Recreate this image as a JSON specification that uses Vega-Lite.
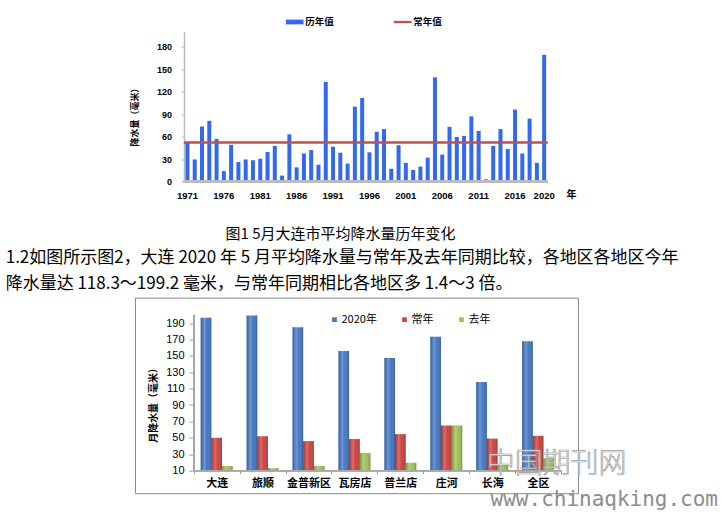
{
  "$schema": "https://vega.github.io/schema/vega-lite/v6.json",
  "background": "white",
  "padding": {"left": 5, "top": 12.6, "right": 0, "bottom": 0},
  "spacing": 6,
  "datasets": {
    "annual": [
      {"year": 1971, "value": 52}, {"year": 1972, "value": 29.5}, {"year": 1973, "value": 73.5}, {"year": 1974, "value": 81},
      {"year": 1975, "value": 57}, {"year": 1976, "value": 14}, {"year": 1977, "value": 49}, {"year": 1978, "value": 26},
      {"year": 1979, "value": 29.5}, {"year": 1980, "value": 28.5}, {"year": 1981, "value": 30.5}, {"year": 1982, "value": 39.5},
      {"year": 1983, "value": 47.5}, {"year": 1984, "value": 8}, {"year": 1985, "value": 63}, {"year": 1986, "value": 19},
      {"year": 1987, "value": 37.5}, {"year": 1988, "value": 42}, {"year": 1989, "value": 22.5}, {"year": 1990, "value": 133},
      {"year": 1991, "value": 46.5}, {"year": 1992, "value": 38.5}, {"year": 1993, "value": 24}, {"year": 1994, "value": 100},
      {"year": 1995, "value": 111.5}, {"year": 1996, "value": 39}, {"year": 1997, "value": 66.5}, {"year": 1998, "value": 70},
      {"year": 1999, "value": 17}, {"year": 2000, "value": 48.5}, {"year": 2001, "value": 25}, {"year": 2002, "value": 15.5},
      {"year": 2003, "value": 20}, {"year": 2004, "value": 32}, {"year": 2005, "value": 139}, {"year": 2006, "value": 36},
      {"year": 2007, "value": 73}, {"year": 2008, "value": 59.5}, {"year": 2009, "value": 61}, {"year": 2010, "value": 87},
      {"year": 2011, "value": 67.5}, {"year": 2012, "value": 3}, {"year": 2013, "value": 47.5}, {"year": 2014, "value": 70},
      {"year": 2015, "value": 43.5}, {"year": 2016, "value": 96}, {"year": 2017, "value": 37.5}, {"year": 2018, "value": 84},
      {"year": 2019, "value": 25}, {"year": 2020, "value": 169}
    ],
    "normal": [{"series": "常年值", "value": 52}],
    "regions": [
      {"region": "大连", "series": "2020年", "value": 196.5}, {"region": "大连", "series": "常年", "value": 50}, {"region": "大连", "series": "去年", "value": 15.5},
      {"region": "旅顺", "series": "2020年", "value": 199.2}, {"region": "旅顺", "series": "常年", "value": 52}, {"region": "旅顺", "series": "去年", "value": 13},
      {"region": "金普新区", "series": "2020年", "value": 185}, {"region": "金普新区", "series": "常年", "value": 46}, {"region": "金普新区", "series": "去年", "value": 15.5},
      {"region": "瓦房店", "series": "2020年", "value": 156}, {"region": "瓦房店", "series": "常年", "value": 48.5}, {"region": "瓦房店", "series": "去年", "value": 31.5},
      {"region": "普兰店", "series": "2020年", "value": 147.5}, {"region": "普兰店", "series": "常年", "value": 54.5}, {"region": "普兰店", "series": "去年", "value": 19.5},
      {"region": "庄河", "series": "2020年", "value": 173.5}, {"region": "庄河", "series": "常年", "value": 65}, {"region": "庄河", "series": "去年", "value": 65},
      {"region": "长海", "series": "2020年", "value": 118.3}, {"region": "长海", "series": "常年", "value": 49}, {"region": "长海", "series": "去年", "value": 18},
      {"region": "全区", "series": "2020年", "value": 168}, {"region": "全区", "series": "常年", "value": 52.5}, {"region": "全区", "series": "去年", "value": 25}
    ]
  },
  "config": {
    "view": {"stroke": null},
    "axis": {"grid": false, "labelColor": "#000", "titleColor": "#000", "labelOverlap": false},
    "legend": {"padding": 0, "titlePadding": 0}
  },
  "resolve": {
    "scale": {"x": "independent", "y": "independent", "color": "independent", "xOffset": "independent"},
    "legend": {"color": "independent"},
    "axis": {"x": "independent", "y": "independent"}
  },
  "vconcat": [
    {
      "width": 443,
      "height": 150,
      "title": {
        "text": "图1  5月大连市平均降水量历年变化",
        "orient": "bottom", "anchor": "middle", "frame": "group", "dx": -16, "offset": 27,
        "font": "Noto Sans CJK SC", "fontSize": 15, "fontWeight": "normal", "color": "#000"
      },
      "layer": [
        {
          "data": {"name": "annual"},
          "mark": {"type": "bar", "width": {"band": 0.55}},
          "encoding": {
            "x": {
              "field": "year", "type": "ordinal",
              "scale": {"type": "band", "paddingInner": 0, "paddingOuter": 0, "range": [48.8, 412.8]},
              "axis": {
                "values": [1971, 1976, 1981, 1986, 1991, 1996, 2001, 2006, 2011, 2016, 2020],
                "labelAngle": 0, "domain": false, "ticks": false, "labelPadding": 8.5, "labelOverlap": false,
                "labelFont": "Liberation Sans", "labelFontSize": 9.5, "labelFontWeight": "bold",
                "title": "年", "titleFont": "Noto Sans CJK SC", "titleFontSize": 10, "titleFontWeight": "bold",
                "titleAnchor": "end", "titleAlign": "right", "titleBaseline": "middle", "titleX": 441, "titleY": 13
              }
            },
            "y": {
              "field": "value", "type": "quantitative",
              "scale": {"domain": [0, 200], "nice": false},
              "axis": {
                "values": [0, 30, 60, 90, 120, 150, 180], "tickCount": 50, "offset": -49, "labelOverlap": false,
                "domainColor": "#BDBDBD", "domainWidth": 1.5, "tickColor": "#BDBDBD", "tickSize": 3,
                "labelPadding": 9.5, "labelFont": "Liberation Sans", "labelFontSize": 9, "labelFontWeight": "bold",
                "title": "降水量（毫米）", "titleFont": "Noto Sans CJK SC", "titleFontSize": 9, "titleFontWeight": "bold",
                "titleAngle": -90, "titleX": -49.3, "titleY": 83, "titleAlign": "center", "titleBaseline": "middle"
              }
            },
            "color": {
              "datum": "历年值", "title": null,
              "scale": {"domain": ["历年值", "常年值"], "range": ["#3369EE", "#C0504D"]},
              "legend": {
                "orient": "none", "legendX": 150.7, "legendY": -18.85, "direction": "horizontal", "title": null,
                "labelFont": "Noto Sans CJK SC", "labelFontSize": 9.5, "labelFontWeight": "bold", "labelColor": "#000",
                "symbolSize": 313, "symbolStrokeWidth": 0, "labelOffset": 1.5, "columnPadding": 59,
                "encode": {"symbols": {"update": {"shape": {"signal": "datum.value === '常年值' ? 'M-1,-0.13H1V0.13H-1Z' : 'M-1,-0.27H1V0.27H-1Z'"}}}}
              }
            }
          }
        },
        {
          "data": {"name": "annual"},
          "mark": {"type": "rule", "color": "#BDBDBD", "strokeWidth": 1.5},
          "encoding": {
            "x": {"datum": 1971, "type": "ordinal", "bandPosition": 0},
            "x2": {"datum": 2020, "bandPosition": 1},
            "y": {"datum": 0, "type": "quantitative"}
          }
        },
        {
          "data": {"name": "normal"},
          "mark": {"type": "rule", "strokeWidth": 2.5},
          "encoding": {
            "x": {"datum": 1971, "type": "ordinal", "bandPosition": 0},
            "x2": {"datum": 2020, "bandPosition": 1},
            "y": {"field": "value", "type": "quantitative"},
            "color": {"field": "series", "type": "nominal", "title": null}
          }
        }
      ]
    },
    {
      "width": 443,
      "height": 195.6,
      "view": {"stroke": "#8A8A8A", "strokeWidth": 1},
      "title": {
        "text": ["1.2如图所示图2，大连 2020 年 5 月平均降水量与常年及去年同期比较，各地区各地区今年", "降水量达 118.3～199.2 毫米，与常年同期相比各地区多 1.4～3 倍。"],
        "orient": "top", "anchor": "start", "frame": "group", "dx": -129.3, "offset": 5,
        "font": "Noto Sans CJK SC", "fontSize": 17, "lineHeight": 26, "fontWeight": "normal", "color": "#000"
      },
      "layer": [
        {
          "data": {"name": "regions"},
          "mark": {"type": "bar"},
          "encoding": {
            "x": {
              "field": "region", "type": "nominal",
              "scale": {"type": "band", "domain": ["大连", "旅顺", "金普新区", "瓦房店", "普兰店", "庄河", "长海", "全区"], "paddingInner": 0, "paddingOuter": 0.823, "align": 0.776},
              "axis": {
                "orient": "bottom", "offset": -22.6, "labelAngle": 0, "domain": false, "labelOverlap": false,
                "tickBand": "extent", "tickSize": 3, "tickColor": "#999999", "labelPadding": 4,
                "labelFont": "Noto Sans CJK SC", "labelFontSize": 11, "labelFontWeight": "bold", "title": null
              }
            },
            "xOffset": {
              "field": "series", "type": "nominal",
              "scale": {"domain": ["2020年", "常年", "去年"], "paddingInner": 0, "paddingOuter": 0.656}
            },
            "y": {
              "field": "value", "type": "quantitative",
              "scale": {"domain": [-17.6, 221.2], "nice": false, "zero": false},
              "axis": {
                "values": [10, 30, 50, 70, 90, 110, 130, 150, 170, 190], "tickCount": 50, "offset": -58, "domain": false, "labelOverlap": false,
                "tickSize": 4, "tickColor": "#999999", "labelPadding": 5,
                "labelFont": "Liberation Sans", "labelFontSize": 11,
                "title": "月降水量（毫米）", "titleFont": "Noto Sans CJK SC", "titleFontSize": 10, "titleFontWeight": "bold",
                "titleAngle": -90, "titleX": -39.6, "titleY": 104.8, "titleAlign": "center", "titleBaseline": "middle"
              }
            },
            "y2": {"datum": 10},
            "color": {
              "field": "series", "type": "nominal",
              "scale": {"domain": ["2020年", "常年", "去年"], "range": ["#4477C4", "#CC4341", "#9DC054"]},
              "legend": {
                "orient": "none", "legendX": 194, "legendY": 16.3, "direction": "horizontal", "title": null,
                "labelFont": "Noto Sans CJK SC", "labelFontSize": 11, "labelColor": "#000",
                "symbolType": "square", "symbolSize": 22, "symbolStrokeWidth": 0, "labelOffset": 1.5, "columnPadding": 22
              }
            }
          }
        },
        {
          "data": {"name": "regions"},
          "mark": {
            "type": "bar",
            "fill": {"gradient": "linear", "x1": 0, "x2": 1, "y1": 0, "y2": 0,
              "stops": [
                {"offset": 0, "color": "rgba(0,0,0,0.22)"},
                {"offset": 0.35, "color": "rgba(255,255,255,0.22)"},
                {"offset": 0.65, "color": "rgba(255,255,255,0.0)"},
                {"offset": 1, "color": "rgba(0,0,0,0.28)"}
              ]}
          },
          "encoding": {
            "x": {"field": "region", "type": "nominal"},
            "xOffset": {"field": "series", "type": "nominal"},
            "y": {"field": "value", "type": "quantitative"},
            "y2": {"datum": 10}
          }
        },
        {
          "data": {"name": "regions"},
          "mark": {"type": "rule", "color": "#A6A6A6", "strokeWidth": 1},
          "encoding": {
            "x": {"datum": "大连", "bandPosition": 0},
            "y": {"datum": 10},
            "y2": {"datum": 200}
          }
        },
        {
          "data": {"name": "regions"},
          "mark": {"type": "rule", "color": "#A6A6A6", "strokeWidth": 1},
          "encoding": {
            "x": {"datum": "大连", "bandPosition": 0},
            "x2": {"datum": "全区", "bandPosition": 1},
            "y": {"datum": 10}
          }
        },
        {
          "data": {"values": [{"label": "中国期刊网"}]},
          "mark": {"type": "text", "font": "Noto Sans CJK SC", "fontSize": 28, "fontWeight": 300, "fill": "#F6F6F6", "fillOpacity": 0.85, "stroke": "#9A9A9A", "strokeWidth": 0.7, "align": "center", "baseline": "middle", "dx": 18.5, "dy": -5.7},
          "encoding": {
            "x": {"datum": "全区"},
            "y": {"datum": 10},
            "text": {"field": "label"}
          }
        },
        {
          "data": {"values": [{"label": "www.chinaqking.com"}]},
          "mark": {"type": "text", "font": "DejaVu Sans Mono", "fontSize": 21, "color": "#8C8C8C", "align": "left", "baseline": "middle", "dx": -47.5, "dy": 29.3},
          "encoding": {
            "x": {"datum": "全区"},
            "y": {"datum": 10},
            "text": {"field": "label"}
          }
        }
      ]
    }
  ]
}
